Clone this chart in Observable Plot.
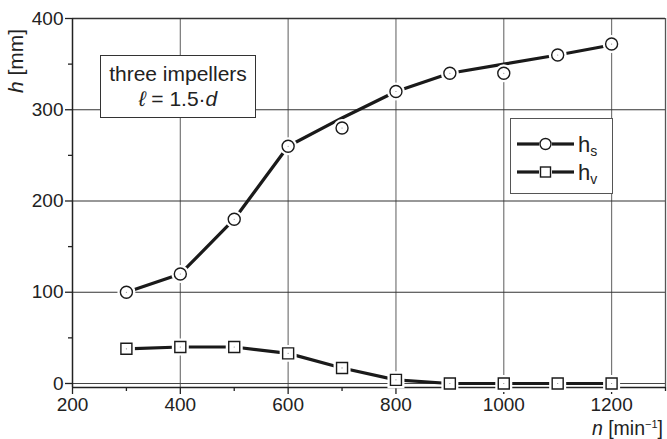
<!DOCTYPE html>
<html>
<head>
<meta charset="utf-8">
<script src="https://cdn.jsdelivr.net/npm/d3@7"></script>
<script src="https://cdn.jsdelivr.net/npm/@observablehq/plot@0.6"></script>
<style>
  html, body { margin: 0; padding: 0; background: #fff; }
  #wrap { position: relative; width: 667px; height: 439px; font-family: "Liberation Sans", Arial, sans-serif; color: #222; }
  #wrap svg { display: block; }
  .box { position: absolute; background: #fff; border: 1.3px solid #333; box-sizing: border-box; }
  .ylab { position: absolute; left: 16px; top: 61px; transform: translate(-50%, -50%) rotate(-90deg); font-size: 21px; white-space: nowrap; }
  .xlab { position: absolute; right: 4px; top: 417px; font-size: 19.5px; white-space: nowrap; }
</style>
</head>
<body>
<div id="wrap"></div>
<script>
// Data
const n = [300, 400, 500, 600, 700, 800, 900, 1000, 1100, 1200];
const hs = [100, 120, 180, 260, 280, 320, 340, 340, 360, 372];
const hsCurve = [100, 120, 180, 260, 291, 320, 340, 350, 360, 371];
const hv = [38, 40, 40, 33, 17, 4, 0, 0, 0, 0];
const xMajorTicks = [200, 400, 600, 800, 1000, 1200];
const xMinorTicks = [300, 500, 700, 900, 1100, 1300];
const yMajorTicks = [0, 100, 200, 300, 400];
const yMinorTicks = [50, 150, 250, 350];
const xGrid = [400, 600, 800, 1000, 1200];
const yGrid = [100, 200, 300];

const sData = n.map((x, i) => ({x, y: hs[i]}));
const sLine = n.map((x, i) => ({x, y: hsCurve[i]}));
const vData = n.map((x, i) => ({x, y: hv[i]}));
const fmt = d => String(d);

const chart = Plot.plot({
  width: 667,
  height: 439,
  marginLeft: 72,
  marginRight: 2,
  marginTop: 18,
  marginBottom: 52,
  style: {fontFamily: "Liberation Sans, Arial, sans-serif", fontSize: "19px", color: "#222", background: "#fff"},
  x: {domain: [200, 1300]},
  y: {domain: [-4.4, 400]},
  marks: [
    Plot.ruleX(xGrid, {stroke: "#777", strokeWidth: 1.2}),
    Plot.ruleY(yGrid, {stroke: "#333", strokeWidth: 1.2}),
    Plot.ruleY([0], {stroke: "#444", strokeWidth: 1.2}),
    Plot.ruleY([400], {stroke: "#333", strokeWidth: 1.3}),
    Plot.ruleX([1300], {stroke: "#555", strokeWidth: 1.3}),
    Plot.ruleX([200], {stroke: "#222", strokeWidth: 1.5}),
    Plot.ruleY([-4.4], {stroke: "#222", strokeWidth: 1.5}),
    Plot.axisX(xMajorTicks, {tickSize: 7, tickPadding: 3, tickFormat: fmt, stroke: "#222", strokeWidth: 1.3, fontSize: 19, fill: "#222", label: null}),
    Plot.axisX(xMinorTicks, {tickSize: 4, text: null, stroke: "#222", strokeWidth: 1.3, label: null}),
    Plot.axisY(yMajorTicks, {tickSize: 7, tickPadding: 2, tickFormat: fmt, stroke: "#222", strokeWidth: 1.3, fontSize: 19, fill: "#222", label: null}),
    Plot.axisY(yMinorTicks, {tickSize: 4, text: null, stroke: "#222", strokeWidth: 1.3, label: null}),
    // h_s
    Plot.line(sLine, {x: "x", y: "y", stroke: "#1a1a1a", strokeWidth: 3.2}),
    Plot.dot(sData, {x: "x", y: "y", r: 6, fill: "#fff", stroke: "#fff", strokeWidth: 6}),
    Plot.dot(sData, {x: "x", y: "y", r: 6, fill: "#fff", stroke: "#1a1a1a", strokeWidth: 1.4}),
    Plot.dot(sData, {x: "x", y: "y", r: 0.6, fill: "#888"}),
    // h_v
    Plot.line(vData, {x: "x", y: "y", stroke: "#1a1a1a", strokeWidth: 3.2}),
    Plot.dot(vData, {x: "x", y: "y", symbol: "square", r: 6.2, fill: "#fff", stroke: "#fff", strokeWidth: 6}),
    Plot.dot(vData, {x: "x", y: "y", symbol: "square", r: 6.2, fill: "#fff", stroke: "#1a1a1a", strokeWidth: 1.4}),
    Plot.dot(vData, {x: "x", y: "y", r: 0.6, fill: "#888"})
  ]
});

const wrap = document.getElementById("wrap");
wrap.appendChild(chart);

// Annotation box
const note = document.createElement("div");
note.className = "box";
note.style.cssText += "left:100px;top:55px;width:156px;height:63px;font-size:21px;text-align:center;line-height:25px;padding-top:5px;white-space:nowrap;";
note.innerHTML = 'three impellers<br><span style="font-style:italic">ℓ</span> = 1.5·<span style="font-style:italic">d</span>';
wrap.appendChild(note);

// Legend box
const leg = document.createElement("div");
leg.className = "box";
leg.style.cssText += "left:510px;top:118px;width:103px;height:76px;border-color:#555;";
leg.innerHTML = `
<svg width="103" height="76" style="position:absolute;left:-1px;top:-1px">
  <line x1="7" x2="29" y1="26" y2="26" stroke="#1a1a1a" stroke-width="3.2"/>
  <line x1="42" x2="64" y1="26" y2="26" stroke="#1a1a1a" stroke-width="3.2"/>
  <circle cx="35.5" cy="26" r="5.5" fill="#fff" stroke="#1a1a1a" stroke-width="1.4"/>
  <line x1="7" x2="29" y1="54" y2="54" stroke="#1a1a1a" stroke-width="3.2"/>
  <line x1="42" x2="64" y1="54" y2="54" stroke="#1a1a1a" stroke-width="3.2"/>
  <rect x="30.5" y="49" width="10" height="10" fill="#fff" stroke="#1a1a1a" stroke-width="1.4"/>
  <text x="68" y="34" font-size="22" fill="#222" font-family="Liberation Sans, Arial, sans-serif">h<tspan font-size="14" dy="4">s</tspan></text>
  <text x="68" y="62" font-size="22" fill="#222" font-family="Liberation Sans, Arial, sans-serif">h<tspan font-size="14" dy="4">v</tspan></text>
</svg>`;
wrap.appendChild(leg);

// Axis labels
const yl = document.createElement("div");
yl.className = "ylab";
yl.innerHTML = '<i>h</i> [mm]';
wrap.appendChild(yl);

const xl = document.createElement("div");
xl.className = "xlab";
xl.innerHTML = '<i>n</i> [min<sup style="font-size:11px">−1</sup>]';
wrap.appendChild(xl);
</script>
</body>
</html>
